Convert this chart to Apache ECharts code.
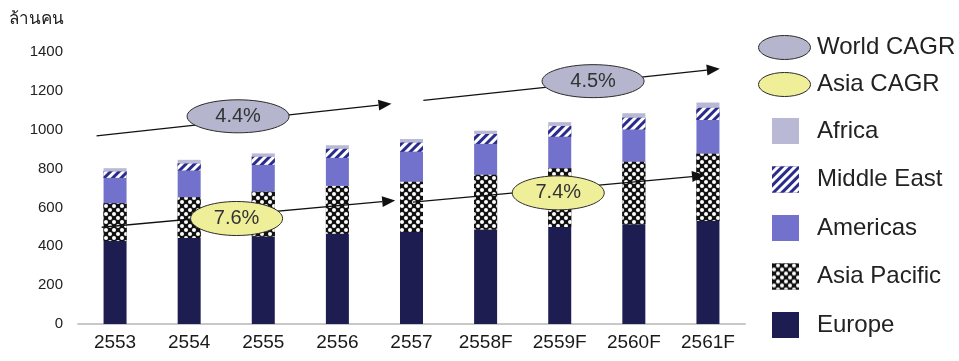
<!DOCTYPE html>
<html>
<head>
<meta charset="utf-8">
<script src="https://cdn.jsdelivr.net/npm/echarts@6/dist/echarts.min.js"></script>
<style>
  html, body { margin: 0; padding: 0; background: #fff; }
  #chart { width: 959px; height: 361px; }
</style>
</head>
<body>
<div id="chart"></div>
<script>
// ปี (พ.ศ.)
var years = ['2553', '2554', '2555', '2556', '2557', '2558F', '2559F', '2560F', '2561F'];
var yTicks = { min: 0, max: 1400, step: 200 };
var unitLabel = 'ล้านคน';

// ล้านคน, stacked bottom -> top
var europe      = [427, 443, 451, 465, 473, 487, 499, 513, 530];
var asiaPacific = [195, 210, 231, 246, 260, 282, 303, 323, 348];
var americas    = [130, 137, 137, 144, 154, 158, 162, 165, 172];
var middleEast  = [34, 37, 43, 48, 48, 51, 56, 62, 64];
var africa      = [16, 18, 16, 17, 17, 17, 19, 22, 26];

// CAGR arrows: [startIdx, startVal, endIdx, endVal, labelIdx, labelVal, text]
var worldCagr = [
  [-0.25, 968, 3.73, 1134, 1.66, 1069, '4.4%'],
  [4.16, 1151, 8.16, 1314, 6.45, 1250, '4.5%']
];
var asiaCagr = [
  [-0.18, 498, 3.78, 636, 1.64, 543, '7.6%'],
  [4.02, 627, 7.96, 765, 5.98, 675, '7.4%']
];

var FONT = 'Liberation Sans';
var ellipseIcon = 'path://M0,12A26,12,0,1,1,52,12A26,12,0,1,1,0,12Z';

function arrowRenderer(rx, ry, fill) {
  return function (params, api) {
    var p1 = api.coord([api.value(0), api.value(1)]);
    var p2 = api.coord([api.value(2), api.value(3)]);
    var c = api.coord([api.value(4), api.value(5)]);
    var dx = p2[0] - p1[0], dy = p2[1] - p1[1];
    var len = Math.sqrt(dx * dx + dy * dy);
    var ux = dx / len, uy = dy / len;
    var head = 13, half = 5.5;
    var bx = p2[0] - ux * head, by = p2[1] - uy * head;
    return {
      type: 'group',
      children: [
        { type: 'line', shape: { x1: p1[0], y1: p1[1], x2: bx, y2: by },
          style: { stroke: '#111', lineWidth: 1.3 } },
        { type: 'polygon', shape: { points: [[p2[0], p2[1]],
            [bx - uy * half, by + ux * half], [bx + uy * half, by - ux * half]] },
          style: { fill: '#111' } },
        { type: 'ellipse', shape: { cx: c[0], cy: c[1], rx: rx, ry: ry },
          style: { fill: fill, stroke: '#2a2a2a', lineWidth: 1 } },
        { type: 'text', x: c[0], y: c[1],
          style: { text: api.value(6), fill: '#333', font: '20px ' + FONT,
                   align: 'center', verticalAlign: 'middle' } }
      ]
    };
  };
}

function barSeries(name, data, style) {
  return { name: name, type: 'bar', stack: 'total', data: data, barWidth: 23,
           itemStyle: style, emphasis: { disabled: true } };
}

var chart = echarts.init(document.getElementById('chart'));
chart.setOption({
  animation: false,
  textStyle: { fontFamily: FONT },
  grid: { left: 78, right: 214, top: 52, bottom: 37 },
  graphic: [
    { type: 'text', left: 9, top: 11,
      style: { text: unitLabel, fill: '#222', font: '17px ' + FONT } }
  ],
  legend: [
    { orient: 'vertical', left: 753, top: 30, itemWidth: 53, itemHeight: 24, itemGap: 12,
      icon: ellipseIcon, selectedMode: false,
      itemStyle: { borderWidth: 1, borderColor: '#2a2a2a' },
      textStyle: { fontSize: 24, color: '#222', padding: [0, 0, 0, 1], lineHeight: 24 },
      data: ['World CAGR', 'Asia CAGR'] },
    { orient: 'vertical', left: 767, top: 113, itemWidth: 27, itemHeight: 26, itemGap: 22.5,
      icon: 'rect', selectedMode: false,
      textStyle: { fontSize: 24, color: '#222', padding: [0, 0, 0, 13], lineHeight: 24 },
      data: ['Africa', 'Middle East', 'Americas', 'Asia Pacific', 'Europe'] }
  ],
  xAxis: [
    { type: 'category', data: years,
      axisLine: { lineStyle: { color: '#c8c8c8', width: 2 } },
      axisTick: { show: false },
      axisLabel: { fontSize: 19, color: '#1a1a1a', margin: 9 } },
    { type: 'value', min: -0.5, max: 8.5, show: false }
  ],
  yAxis: {
    type: 'value', min: yTicks.min, max: yTicks.max, interval: yTicks.step,
    axisLine: { show: false }, axisTick: { show: false }, splitLine: { show: false },
    axisLabel: { fontSize: 15, color: '#222', margin: 15,
                 formatter: function (v) { return String(v); } }
  },
  series: [
    barSeries('Europe', europe, { color: '#1d1d52' }),
    barSeries('Asia Pacific', asiaPacific, {
      color: '#111',
      decal: { symbol: 'circle', symbolSize: 1, color: '#ffffff', backgroundColor: '#111',
               dashArrayX: [[4, 4], [0, 4, 4, 0]], dashArrayY: [4, 0] }
    }),
    barSeries('Americas', americas, { color: '#7272cc' }),
    barSeries('Middle East', middleEast, {
      color: '#2b2b8c',
      decal: { symbol: 'rect', symbolSize: 1, color: '#2b2b8c', backgroundColor: '#ffffff',
               dashArrayX: [1, 0], dashArrayY: [3, 3], rotation: -Math.PI / 4 }
    }),
    barSeries('Africa', africa, { color: '#b9b9d6' }),
    { name: 'World CAGR', type: 'custom', xAxisIndex: 1, z: 10,
      itemStyle: { color: '#b5b6cd', borderColor: '#2a2a2a', borderWidth: 1 },
      encode: { x: [0, 2, 4], y: [1, 3, 5] },
      renderItem: arrowRenderer(51, 16.5, '#b5b6cd'), data: worldCagr },
    { name: 'Asia CAGR', type: 'custom', xAxisIndex: 1, z: 10,
      itemStyle: { color: '#efef9a', borderColor: '#2a2a2a', borderWidth: 1 },
      encode: { x: [0, 2, 4], y: [1, 3, 5] },
      renderItem: arrowRenderer(46, 17, '#efef9a'), data: asiaCagr }
  ]
});
</script>
</body>
</html>
